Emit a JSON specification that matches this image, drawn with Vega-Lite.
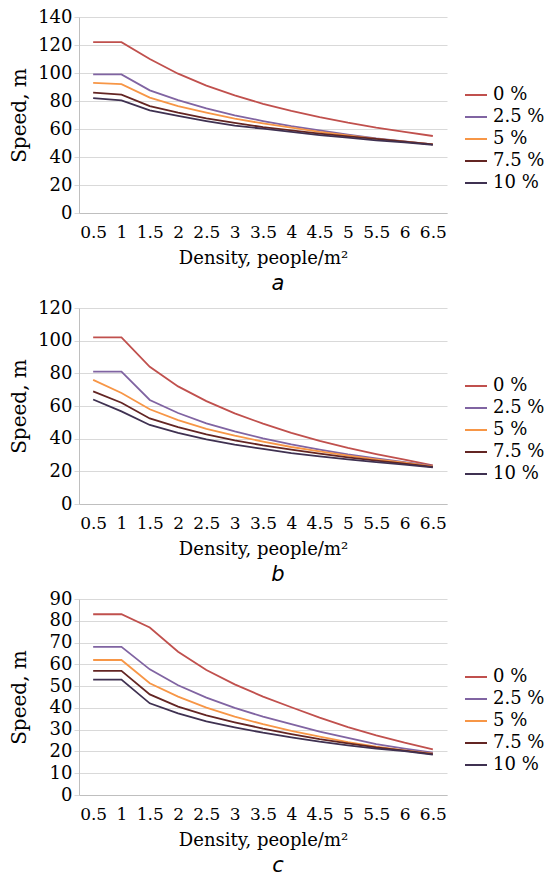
{
  "$schema": "https://vega.github.io/schema/vega-lite/v6.json",
  "padding": {"left": 9, "top": 8, "right": 0, "bottom": 0},
  "background": "white",
  "spacing": 5,
  "datasets": {
    "a": [
      {"g":"0 %","d":0.5,"s":122},{"g":"0 %","d":1,"s":122},{"g":"0 %","d":1.5,"s":110},{"g":"0 %","d":2,"s":99.5},{"g":"0 %","d":2.5,"s":91},{"g":"0 %","d":3,"s":84},{"g":"0 %","d":3.5,"s":78},{"g":"0 %","d":4,"s":73},{"g":"0 %","d":4.5,"s":68.5},{"g":"0 %","d":5,"s":64.5},{"g":"0 %","d":5.5,"s":61},{"g":"0 %","d":6,"s":58},{"g":"0 %","d":6.5,"s":55},
      {"g":"2.5 %","d":0.5,"s":99},{"g":"2.5 %","d":1,"s":99},{"g":"2.5 %","d":1.5,"s":87.6},{"g":"2.5 %","d":2,"s":80.7},{"g":"2.5 %","d":2.5,"s":74.8},{"g":"2.5 %","d":3,"s":69.8},{"g":"2.5 %","d":3.5,"s":65.7},{"g":"2.5 %","d":4,"s":62},{"g":"2.5 %","d":4.5,"s":59},{"g":"2.5 %","d":5,"s":56},{"g":"2.5 %","d":5.5,"s":53.3},{"g":"2.5 %","d":6,"s":51.2},{"g":"2.5 %","d":6.5,"s":49},
      {"g":"5 %","d":0.5,"s":93},{"g":"5 %","d":1,"s":92},{"g":"5 %","d":1.5,"s":82.4},{"g":"5 %","d":2,"s":76.4},{"g":"5 %","d":2.5,"s":71.7},{"g":"5 %","d":3,"s":67.4},{"g":"5 %","d":3.5,"s":64},{"g":"5 %","d":4,"s":61},{"g":"5 %","d":4.5,"s":57.9},{"g":"5 %","d":5,"s":55.5},{"g":"5 %","d":5.5,"s":53},{"g":"5 %","d":6,"s":51},{"g":"5 %","d":6.5,"s":49},
      {"g":"7.5 %","d":0.5,"s":86},{"g":"7.5 %","d":1,"s":84.5},{"g":"7.5 %","d":1.5,"s":76.4},{"g":"7.5 %","d":2,"s":71.7},{"g":"7.5 %","d":2.5,"s":67.6},{"g":"7.5 %","d":3,"s":64.3},{"g":"7.5 %","d":3.5,"s":61.4},{"g":"7.5 %","d":4,"s":59},{"g":"7.5 %","d":4.5,"s":56.7},{"g":"7.5 %","d":5,"s":54.8},{"g":"7.5 %","d":5.5,"s":52.9},{"g":"7.5 %","d":6,"s":51},{"g":"7.5 %","d":6.5,"s":49},
      {"g":"10 %","d":0.5,"s":82},{"g":"10 %","d":1,"s":80.5},{"g":"10 %","d":1.5,"s":73.3},{"g":"10 %","d":2,"s":69.3},{"g":"10 %","d":2.5,"s":65.7},{"g":"10 %","d":3,"s":62.4},{"g":"10 %","d":3.5,"s":60.2},{"g":"10 %","d":4,"s":57.9},{"g":"10 %","d":4.5,"s":55.7},{"g":"10 %","d":5,"s":53.8},{"g":"10 %","d":5.5,"s":51.9},{"g":"10 %","d":6,"s":50.5},{"g":"10 %","d":6.5,"s":48.6}
    ],
    "b": [
      {"g":"0 %","d":0.5,"s":102},{"g":"0 %","d":1,"s":102},{"g":"0 %","d":1.5,"s":84},{"g":"0 %","d":2,"s":72},{"g":"0 %","d":2.5,"s":63},{"g":"0 %","d":3,"s":55.5},{"g":"0 %","d":3.5,"s":49.2},{"g":"0 %","d":4,"s":43.5},{"g":"0 %","d":4.5,"s":38.6},{"g":"0 %","d":5,"s":34.3},{"g":"0 %","d":5.5,"s":30.6},{"g":"0 %","d":6,"s":27.1},{"g":"0 %","d":6.5,"s":23.7},
      {"g":"2.5 %","d":0.5,"s":81},{"g":"2.5 %","d":1,"s":81},{"g":"2.5 %","d":1.5,"s":63.7},{"g":"2.5 %","d":2,"s":55.7},{"g":"2.5 %","d":2.5,"s":49.4},{"g":"2.5 %","d":3,"s":44.5},{"g":"2.5 %","d":3.5,"s":40.2},{"g":"2.5 %","d":4,"s":36.5},{"g":"2.5 %","d":4.5,"s":33.3},{"g":"2.5 %","d":5,"s":30.4},{"g":"2.5 %","d":5.5,"s":28},{"g":"2.5 %","d":6,"s":25.7},{"g":"2.5 %","d":6.5,"s":23.3},
      {"g":"5 %","d":0.5,"s":76},{"g":"5 %","d":1,"s":68},{"g":"5 %","d":1.5,"s":58},{"g":"5 %","d":2,"s":51.4},{"g":"5 %","d":2.5,"s":46},{"g":"5 %","d":3,"s":41.8},{"g":"5 %","d":3.5,"s":38.2},{"g":"5 %","d":4,"s":34.9},{"g":"5 %","d":4.5,"s":32.2},{"g":"5 %","d":5,"s":29.6},{"g":"5 %","d":5.5,"s":27.3},{"g":"5 %","d":6,"s":25.3},{"g":"5 %","d":6.5,"s":23},
      {"g":"7.5 %","d":0.5,"s":69},{"g":"7.5 %","d":1,"s":62},{"g":"7.5 %","d":1.5,"s":52.4},{"g":"7.5 %","d":2,"s":47.1},{"g":"7.5 %","d":2.5,"s":42.7},{"g":"7.5 %","d":3,"s":39},{"g":"7.5 %","d":3.5,"s":35.9},{"g":"7.5 %","d":4,"s":33.3},{"g":"7.5 %","d":4.5,"s":30.8},{"g":"7.5 %","d":5,"s":28.6},{"g":"7.5 %","d":5.5,"s":26.5},{"g":"7.5 %","d":6,"s":24.7},{"g":"7.5 %","d":6.5,"s":22.7},
      {"g":"10 %","d":0.5,"s":64},{"g":"10 %","d":1,"s":56.7},{"g":"10 %","d":1.5,"s":48.4},{"g":"10 %","d":2,"s":43.5},{"g":"10 %","d":2.5,"s":39.6},{"g":"10 %","d":3,"s":36.3},{"g":"10 %","d":3.5,"s":33.7},{"g":"10 %","d":4,"s":31.2},{"g":"10 %","d":4.5,"s":29.2},{"g":"10 %","d":5,"s":27.3},{"g":"10 %","d":5.5,"s":25.7},{"g":"10 %","d":6,"s":24.1},{"g":"10 %","d":6.5,"s":22.4}
    ],
    "c": [
      {"g":"0 %","d":0.5,"s":83},{"g":"0 %","d":1,"s":83},{"g":"0 %","d":1.5,"s":76.9},{"g":"0 %","d":2,"s":65.8},{"g":"0 %","d":2.5,"s":57.4},{"g":"0 %","d":3,"s":50.8},{"g":"0 %","d":3.5,"s":45.2},{"g":"0 %","d":4,"s":40.3},{"g":"0 %","d":4.5,"s":35.5},{"g":"0 %","d":5,"s":31.2},{"g":"0 %","d":5.5,"s":27.4},{"g":"0 %","d":6,"s":24},{"g":"0 %","d":6.5,"s":21},
      {"g":"2.5 %","d":0.5,"s":68},{"g":"2.5 %","d":1,"s":68},{"g":"2.5 %","d":1.5,"s":57.7},{"g":"2.5 %","d":2,"s":50.4},{"g":"2.5 %","d":2.5,"s":44.7},{"g":"2.5 %","d":3,"s":40},{"g":"2.5 %","d":3.5,"s":36},{"g":"2.5 %","d":4,"s":32.5},{"g":"2.5 %","d":4.5,"s":29.1},{"g":"2.5 %","d":5,"s":26.2},{"g":"2.5 %","d":5.5,"s":23.4},{"g":"2.5 %","d":6,"s":21.3},{"g":"2.5 %","d":6.5,"s":19.4},
      {"g":"5 %","d":0.5,"s":62},{"g":"5 %","d":1,"s":62},{"g":"5 %","d":1.5,"s":51.3},{"g":"5 %","d":2,"s":45.2},{"g":"5 %","d":2.5,"s":40.1},{"g":"5 %","d":3,"s":36},{"g":"5 %","d":3.5,"s":32.5},{"g":"5 %","d":4,"s":29.4},{"g":"5 %","d":4.5,"s":26.8},{"g":"5 %","d":5,"s":24.3},{"g":"5 %","d":5.5,"s":22.2},{"g":"5 %","d":6,"s":20.5},{"g":"5 %","d":6.5,"s":19},
      {"g":"7.5 %","d":0.5,"s":57},{"g":"7.5 %","d":1,"s":57},{"g":"7.5 %","d":1.5,"s":46.2},{"g":"7.5 %","d":2,"s":40.6},{"g":"7.5 %","d":2.5,"s":36.6},{"g":"7.5 %","d":3,"s":33.4},{"g":"7.5 %","d":3.5,"s":30.5},{"g":"7.5 %","d":4,"s":28},{"g":"7.5 %","d":4.5,"s":25.7},{"g":"7.5 %","d":5,"s":23.7},{"g":"7.5 %","d":5.5,"s":21.9},{"g":"7.5 %","d":6,"s":20.4},{"g":"7.5 %","d":6.5,"s":18.8},
      {"g":"10 %","d":0.5,"s":53},{"g":"10 %","d":1,"s":53},{"g":"10 %","d":1.5,"s":42.1},{"g":"10 %","d":2,"s":37.5},{"g":"10 %","d":2.5,"s":33.8},{"g":"10 %","d":3,"s":31.1},{"g":"10 %","d":3.5,"s":28.6},{"g":"10 %","d":4,"s":26.5},{"g":"10 %","d":4.5,"s":24.5},{"g":"10 %","d":5,"s":22.8},{"g":"10 %","d":5.5,"s":21.3},{"g":"10 %","d":6,"s":20.1},{"g":"10 %","d":6.5,"s":18.5}
    ]
  },
  "config": {
    "font": "DejaVu Serif",
    "view": {"stroke": null},
    "axis": {
      "labelFont": "DejaVu Serif", "labelFontSize": 18, "labelColor": "#000000",
      "titleFont": "DejaVu Serif", "titleFontSize": 18, "titleFontWeight": "normal", "titleColor": "#000000",
      "gridColor": "#d9d9d9", "domainColor": "#bfbfbf", "tickColor": "#d9d9d9"
    },
    "legend": {
      "labelFont": "DejaVu Serif", "labelFontSize": 18, "labelColor": "#000000",
      "symbolType": "stroke", "symbolSize": 484, "symbolStrokeWidth": 2, "rowPadding": 1, "labelOffset": 5
    },
    "title": {"font": "DejaVu Sans", "fontSize": 21, "fontStyle": "italic", "fontWeight": "normal", "color": "#000000", "orient": "bottom", "dx": 15, "offset": 6}
  },
  "resolve": {"scale": {"color": "independent", "y": "independent"}, "legend": {"color": "independent"}},
  "vconcat": [
    {
      "width": 368, "height": 196,
      "title": "a",
      "data": {"name": "a"},
      "mark": {"type": "line", "strokeWidth": 1.8},
      "encoding": {
        "x": {"field": "d", "type": "quantitative", "title": "Density, people/m²",
              "scale": {"domain": [0.25, 6.75], "nice": false},
              "axis": {"values": [0.5,1,1.5,2,2.5,3,3.5,4,4.5,5,5.5,6,6.5], "format": "~g", "grid": false, "ticks": false, "labelFlush": false, "labelFontSize": 17, "labelPadding": 11, "titlePadding": 9, "labelOverlap": false}},
        "y": {"field": "s", "type": "quantitative", "title": "Speed, m",
              "scale": {"domain": [0, 140], "nice": false},
              "axis": {"values": [0,20,40,60,80,100,120,140], "tickSize": 5, "labelPadding": 2, "titleFontSize": 20, "titleX": -50}},
        "color": {"field": "g", "type": "nominal",
                  "scale": {"domain": ["0 %","2.5 %","5 %","7.5 %","10 %"], "range": ["#C0504D","#8064A2","#F79646","#632523","#3F3151"]},
                  "legend": {"title": null, "orient": "none", "legendX": 385, "legendY": 66}}
      }
    },
    {
      "width": 368, "height": 196,
      "title": "b",
      "data": {"name": "b"},
      "mark": {"type": "line", "strokeWidth": 1.8},
      "encoding": {
        "x": {"field": "d", "type": "quantitative", "title": "Density, people/m²",
              "scale": {"domain": [0.25, 6.75], "nice": false},
              "axis": {"values": [0.5,1,1.5,2,2.5,3,3.5,4,4.5,5,5.5,6,6.5], "format": "~g", "grid": false, "ticks": false, "labelFlush": false, "labelFontSize": 17, "labelPadding": 11, "titlePadding": 9, "labelOverlap": false}},
        "y": {"field": "s", "type": "quantitative", "title": "Speed, m",
              "scale": {"domain": [0, 120], "nice": false},
              "axis": {"values": [0,20,40,60,80,100,120], "tickSize": 5, "labelPadding": 2, "titleFontSize": 20, "titleX": -50}},
        "color": {"field": "g", "type": "nominal",
                  "scale": {"domain": ["0 %","2.5 %","5 %","7.5 %","10 %"], "range": ["#C0504D","#8064A2","#F79646","#632523","#3F3151"]},
                  "legend": {"title": null, "orient": "none", "legendX": 385, "legendY": 66}}
      }
    },
    {
      "width": 368, "height": 196,
      "title": "c",
      "data": {"name": "c"},
      "mark": {"type": "line", "strokeWidth": 1.8},
      "encoding": {
        "x": {"field": "d", "type": "quantitative", "title": "Density, people/m²",
              "scale": {"domain": [0.25, 6.75], "nice": false},
              "axis": {"values": [0.5,1,1.5,2,2.5,3,3.5,4,4.5,5,5.5,6,6.5], "format": "~g", "grid": false, "ticks": false, "labelFlush": false, "labelFontSize": 17, "labelPadding": 11, "titlePadding": 9, "labelOverlap": false}},
        "y": {"field": "s", "type": "quantitative", "title": "Speed, m",
              "scale": {"domain": [0, 90], "nice": false},
              "axis": {"values": [0,10,20,30,40,50,60,70,80,90], "tickSize": 5, "labelPadding": 2, "titleFontSize": 20, "titleX": -50}},
        "color": {"field": "g", "type": "nominal",
                  "scale": {"domain": ["0 %","2.5 %","5 %","7.5 %","10 %"], "range": ["#C0504D","#8064A2","#F79646","#632523","#3F3151"]},
                  "legend": {"title": null, "orient": "none", "legendX": 385, "legendY": 66}}
      }
    }
  ]
}
